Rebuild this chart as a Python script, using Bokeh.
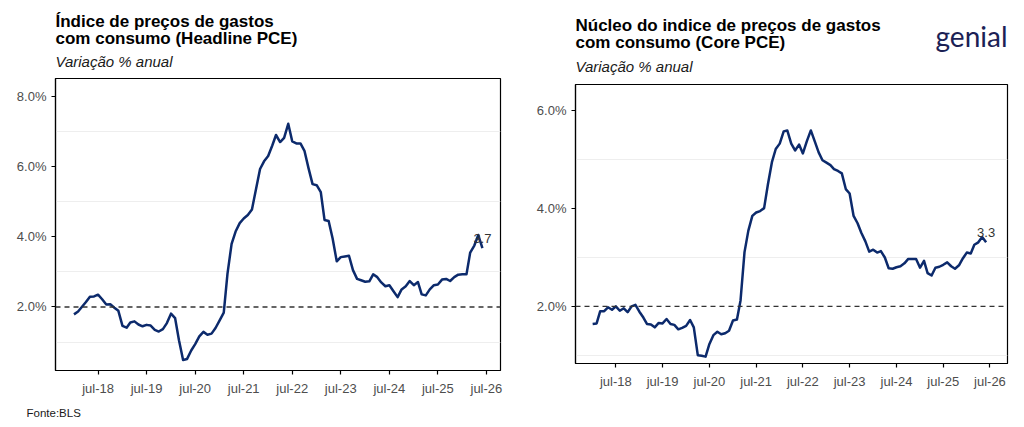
import pandas as pd
from bokeh.plotting import figure
from bokeh.models import (Range1d, FixedTicker, PrintfTickFormatter, Title,
                          CustomJSTickFormatter, Span, ColumnDataSource)
from bokeh.layouts import row, column
from bokeh.embed import file_html
from bokeh.resources import INLINE
from bokeh.core.properties import value

# ---------------- data ----------------
months = pd.date_range("2018-01-01", periods=102, freq="MS")

headline_pce = [
    1.79, 1.87, 2.00, 2.14, 2.29, 2.30, 2.35, 2.22, 2.07, 2.08, 1.98, 1.89,
    1.46, 1.41, 1.56, 1.59, 1.50, 1.45, 1.49, 1.47, 1.35, 1.30, 1.37, 1.54,
    1.81, 1.68, 1.05, 0.49, 0.52, 0.76, 0.94, 1.16, 1.29, 1.21, 1.24, 1.40,
    1.62, 1.84, 2.95, 3.80, 4.15, 4.39, 4.52, 4.62, 4.78, 5.35, 5.93, 6.15,
    6.30, 6.60, 6.90, 6.70, 6.82, 7.22, 6.72, 6.66, 6.66, 6.45, 5.95, 5.50,
    5.47, 5.27, 4.48, 4.45, 3.95, 3.30, 3.42, 3.44, 3.46, 3.05, 2.80, 2.76,
    2.72, 2.73, 2.93, 2.85, 2.70, 2.59, 2.62, 2.45, 2.28, 2.50, 2.59, 2.74,
    2.62, 2.71, 2.36, 2.33, 2.50, 2.62, 2.64, 2.78, 2.80, 2.74, 2.85, 2.92,
    2.93, 2.93, 3.55, 3.75, 4.05, 3.68,
]

core_pce = [
    1.64, 1.65, 1.90, 1.90, 1.98, 1.93, 2.00, 1.91, 1.96, 1.88, 2.00, 2.03,
    1.89, 1.77, 1.64, 1.63, 1.57, 1.66, 1.65, 1.74, 1.64, 1.62, 1.53, 1.56,
    1.60, 1.72, 1.57, 1.00, 0.99, 0.97, 1.23, 1.41, 1.48, 1.43, 1.45, 1.50,
    1.71, 1.73, 2.12, 3.11, 3.55, 3.85, 3.92, 3.95, 4.01, 4.50, 4.95, 5.22,
    5.33, 5.58, 5.60, 5.33, 5.19, 5.31, 5.13, 5.38, 5.60, 5.38, 5.15, 4.99,
    4.94, 4.89, 4.81, 4.77, 4.72, 4.40, 4.31, 3.85, 3.70, 3.50, 3.33, 3.12,
    3.16, 3.10, 3.13, 3.00, 2.78, 2.77, 2.80, 2.82, 2.88, 2.97, 2.97, 2.97,
    2.79, 2.93, 2.68, 2.63, 2.79, 2.81, 2.85, 2.90, 2.82, 2.77, 2.84, 2.98,
    3.10, 3.08, 3.26, 3.31, 3.42, 3.31,
]

x_tick_dates = ["2018-07-01", "2019-07-01", "2020-07-01", "2021-07-01", "2022-07-01",
                "2023-07-01", "2024-07-01", "2025-07-01", "2026-07-01"]
x_tick_labels = ["jul-18", "jul-19", "jul-20", "jul-21", "jul-22",
                 "jul-23", "jul-24", "jul-25", "jul-26"]
headline_y_ticks = [2, 4, 6, 8]
core_y_ticks = [2, 4, 6]
faint_grid = [1, 3, 5, 7]
target_rate = 2.0

left_title = ["Índice de preços de gastos", "com consumo (Headline PCE)"]
right_title = ["Núcleo do indice de preços de gastos", "com consumo (Core PCE)"]
subtitle = "Variação % anual"
source_note = "Fonte:BLS"
logo_text = "genial"

# ---------------- style ----------------
NAVY = "#0c2a6c"
FONT = "Liberation Sans"
tick_ms = [pd.Timestamp(d).value // 10**6 for d in x_tick_dates]
FIG_W, FIG_H = 512, 427


def panel(series, y_lo, y_hi, y_ticks, x_lo, x_hi, borders):
    bl, br, bt, bb = borders
    p = figure(width=FIG_W, height=FIG_H, output_backend="svg", toolbar_location=None,
               x_axis_type="datetime",
               x_range=Range1d(pd.Timestamp(x_lo), pd.Timestamp(x_hi)),
               y_range=Range1d(y_lo, y_hi),
               min_border_left=bl, min_border_right=br,
               min_border_top=bt, min_border_bottom=bb)
    p.background_fill_color = "white"
    p.border_fill_color = "white"
    p.outline_line_color = "black"
    p.outline_line_width = 1.2
    p.outline_line_alpha = 1.0

    p.xgrid.visible = False
    p.ygrid.ticker = FixedTicker(ticks=faint_grid)
    p.ygrid.grid_line_color = "#eeeeee"
    p.ygrid.grid_line_width = 1

    p.xaxis.ticker = FixedTicker(ticks=tick_ms)
    p.xaxis.formatter = CustomJSTickFormatter(
        args=dict(tick_vals=tick_ms, tick_names=x_tick_labels),
        code="const i = tick_vals.indexOf(tick); return i >= 0 ? tick_names[i] : '';")
    p.yaxis.ticker = FixedTicker(ticks=y_ticks)
    p.yaxis.formatter = PrintfTickFormatter(format="%.1f%%")

    for ax in (p.xaxis[0], p.yaxis[0]):
        ax.axis_line_color = "black"
        ax.axis_line_width = 1.2
        ax.major_tick_line_color = "black"
        ax.major_tick_line_width = 1.2
        ax.major_tick_out = 4
        ax.major_tick_in = 0
        ax.minor_tick_line_color = None
        ax.major_label_text_font = FONT
        ax.major_label_text_font_size = "13px"
        ax.major_label_text_color = "#4d4d4d"
    p.xaxis.major_label_standoff = 6
    p.yaxis.major_label_standoff = 5

    p.add_layout(Span(location=target_rate, dimension="width", line_color="#333333",
                      line_width=1.3, line_dash="5 4"))

    src = ColumnDataSource(dict(date=months, v=series))
    p.line(x="date", y="v", source=src, line_color=NAVY, line_width=2.5,
           line_join="round")

    p.text(x=[months[-1]], y=[series[-1]], text=[f"{series[-1]:.1f}"],
           text_font=value(FONT), text_font_size="13px", text_color="#333333",
           text_align="center", text_baseline="bottom", y_offset=-5)
    return p


def title(p, text, size, style, standoff, side="above", align="left", offset=0,
          color="black", font=FONT):
    try:
        t = Title(text=text, text_font=font, text_font_size=size,
                  text_font_style=style, text_color=color, standoff=standoff,
                  align=align, offset=offset)
    except Exception:
        t = Title(text=text, text_font=font, text_font_size=size,
                  text_font_style=style, text_color=color, standoff=max(standoff, 0),
                  align=align, offset=offset)
    p.add_layout(t, side)


# left panel: page frame x 55..500, y 78..370
p1 = panel(headline_pce, 0.19, 8.51, headline_y_ticks,
           "2017-08-15", "2026-10-15", (55, 12, 78, 57))
title(p1, subtitle, "15px", "italic", 16.2, color="#1a1a1a")
title(p1, left_title[1], "17px", "bold", -8.1)
title(p1, left_title[0], "17px", "bold", 0)
title(p1, source_note, "11.5px", "normal", 11.5, side="below", offset=-29,
      color="#1a1a1a")

# right panel: page frame x 575..1007, y 84..363
p2 = panel(core_pce, 0.83, 6.54, core_y_ticks,
           "2017-08-20", "2026-11-15", (63, 17, 84, 64))
title(p2, subtitle, "15px", "italic", 18.2, color="#1a1a1a")
title(p2, right_title[1], "17px", "bold", -9.7)
title(p2, logo_text, "28px", "normal", -32.6, align="right", color="#1b2155",
      font="Lato")
title(p2, right_title[0], "17px", "bold", -3.2)

layout = row(column(p1), column(p2))
open("out.html", "w").write(file_html(layout, INLINE))
